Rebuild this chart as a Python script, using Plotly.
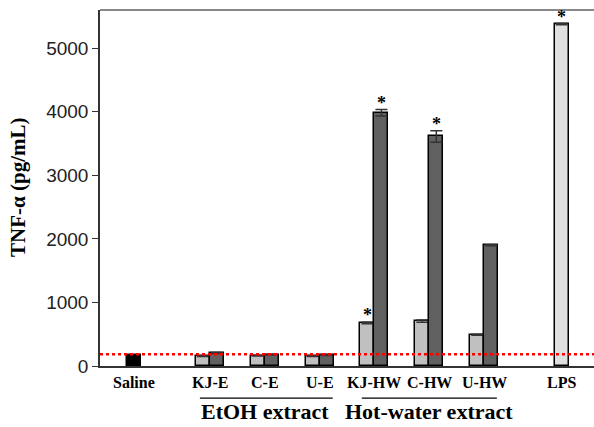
import plotly.graph_objects as go

# ---- data ----
extract_labels = ["KJ-E", "C-E", "U-E", "KJ-HW", "C-HW", "U-HW"]
low_dose = [157, 162, 157, 676, 707, 492]
high_dose = [205, 178, 173, 3983, 3611, 1898]
low_err = [6, 6, 6, 12, 18, 8]
high_err = [8, 6, 6, 50, 90, 8]
low_sig = [False, False, False, True, False, False]
high_sig = [False, False, False, True, True, False]
saline_label = "Saline"
saline_value = 168
lps_label = "LPS"
lps_value = 5377
lps_err = 10
lps_sig = True
baseline_value = 185
group_labels = ["EtOH extract", "Hot-water extract"]
y_ticks = [0, 1000, 2000, 3000, 4000, 5000]

# ---- layout positions (x axis units) ----
pos_ext = [2, 3, 4, 5, 6, 7]
pos_saline = 0.62
pos_lps = 8.41
bw = 0.255
serif = "Liberation Serif, Times New Roman, serif"
sans = "Liberation Sans, Arial, sans-serif"

fig = go.Figure()
line_style = dict(color="#000000", width=1.5)
err_style = dict(type="data", thickness=1.5, width=6, color="#333333")

fig.add_trace(go.Bar(x=[pos_saline], y=[saline_value], width=[bw],
                     marker=dict(color="#000000", line=line_style), showlegend=False))
fig.add_trace(go.Bar(x=[p - bw / 2 for p in pos_ext], y=low_dose, width=bw,
                     marker=dict(color="#c0c0c0", line=line_style),
                     error_y=dict(array=low_err, **err_style), showlegend=False))
fig.add_trace(go.Bar(x=[p + bw / 2 for p in pos_ext], y=high_dose, width=bw,
                     marker=dict(color="#606060", line=line_style),
                     error_y=dict(array=high_err, **err_style), showlegend=False))
fig.add_trace(go.Bar(x=[pos_lps], y=[lps_value], width=[bw],
                     marker=dict(color="#e0e0e0", line=line_style),
                     error_y=dict(array=[lps_err], **err_style), showlegend=False))

# asterisks
stars = []
for p, v, e, s in zip(pos_ext, low_dose, low_err, low_sig):
    if s:
        stars.append((p - bw / 2, v + e))
for p, v, e, s in zip(pos_ext, high_dose, high_err, high_sig):
    if s:
        stars.append((p + bw / 2, v + e))
if lps_sig:
    stars.append((pos_lps, lps_value + lps_err))
annotations = []
for sx, sy in stars:
    annotations.append(dict(x=sx, y=sy, xref="x", yref="y", text="<b>*</b>",
                            showarrow=False, yanchor="bottom", yshift=-5,
                            font=dict(family=serif, size=18, color="#000")))

# category labels
cat_pos = [pos_saline] + pos_ext + [pos_lps]
cat_text = [saline_label] + extract_labels + [lps_label]
for p, t in zip(cat_pos, cat_text):
    annotations.append(dict(x=p, y=-0.047, xref="x", yref="paper", yanchor="middle",
                            text="<b>" + t + "</b>", showarrow=False,
                            font=dict(family=serif, size=16, color="#000")))

# group labels
group_centers = [3, 6]
group_spans = [(1.82, 4.24), (4.77, 7.23)]
for lab, c in zip(group_labels, group_centers):
    annotations.append(dict(x=c, y=-0.127, xref="x", yref="paper", yanchor="middle",
                            text="<b>" + lab + "</b>", showarrow=False,
                            font=dict(family=serif, size=22, color="#000")))
# y title
annotations.append(dict(x=0, y=0.5, xref="paper", yref="paper", xshift=-82,
                        xanchor="center", yanchor="middle",
                        text="<b>TNF-α (pg/mL)</b>", textangle=-90, showarrow=False,
                        font=dict(family=serif, size=21, color="#000")))

shapes = [dict(type="line", xref="x", yref="y", x0=0, x1=9, y0=baseline_value,
               y1=baseline_value, line=dict(color="#ff0000", width=2.5, dash="dot")),
          dict(type="line", xref="paper", yref="paper", x0=0, x1=1, y0=1, y1=1,
               line=dict(color="#888888", width=2))]
for a, b in group_spans:
    shapes.append(dict(type="line", xref="x", yref="paper", x0=a, x1=b, y0=-0.09, y1=-0.09,
                       line=dict(color="#000", width=1.2)))

fig.update_layout(
    width=594, height=427,
    margin=dict(l=100, r=0, t=10, b=61),
    plot_bgcolor="white", paper_bgcolor="white",
    bargap=0, annotations=annotations, shapes=shapes,
    xaxis=dict(range=[0, 9], showgrid=False, zeroline=False, showticklabels=False,
               ticks="", showline=True, linecolor="#333", linewidth=1.5),
    yaxis=dict(range=[0, 5600], showgrid=False, zeroline=False,
               tickvals=y_ticks, ticks="outside", ticklen=6, tickcolor="#333",
               showline=True, linecolor="#333", linewidth=1.5,
               tickfont=dict(family=sans, size=19, color="#222")),
)

fig.write_html("out.html", config={"displayModeBar": False},
               post_script="document.body.style.margin='0';")
